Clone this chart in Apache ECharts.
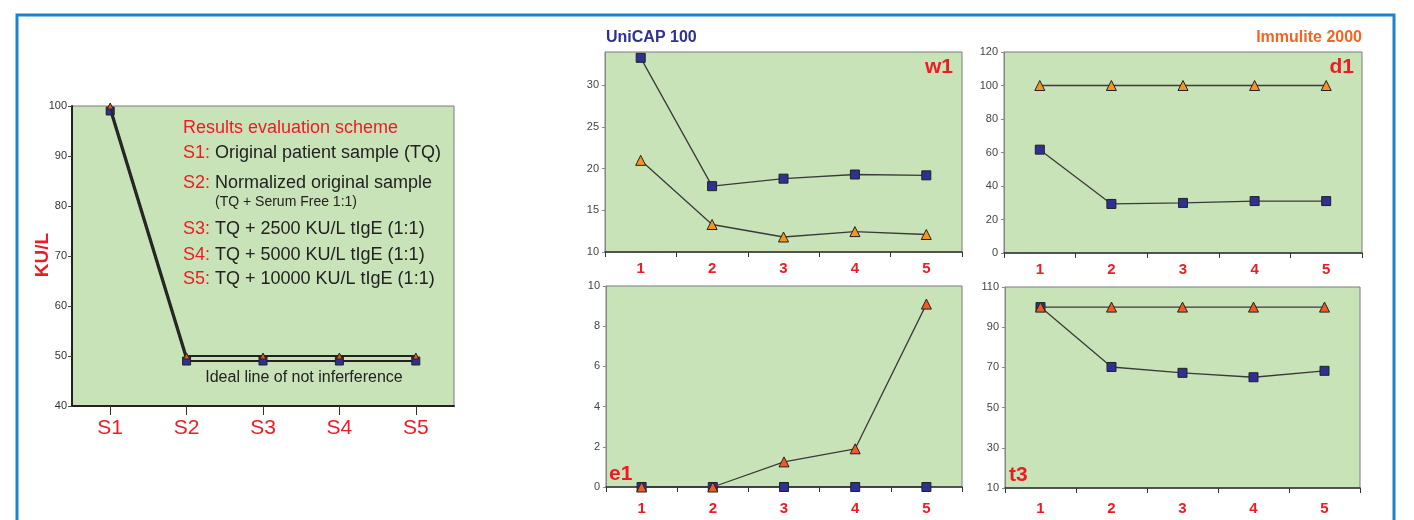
<!DOCTYPE html>
<html><head><meta charset="utf-8">
<script src="https://cdn.jsdelivr.net/npm/echarts@6/dist/echarts.min.js"></script>
<style>html,body{margin:0;padding:0;background:#fff}#c{width:1414px;height:520px}</style>
</head><body><div id="c"></div>
<script>
// ---- data ----
const leftCategories = ['S1','S2','S3','S4','S5'];
const leftTriangle = [100, 50, 50, 50, 50];
const leftSquare = [99, 49, 49, 49, 49];
const leftYTicks = {min: 40, max: 100, interval: 10};

const smallCategories = ['1','2','3','4','5'];
const w1Square = [33.3, 17.9, 18.8, 19.3, 19.2];
const w1Triangle = [21.0, 13.3, 11.8, 12.45, 12.1];
const d1Square = [61.7, 29.3, 29.9, 31.0, 31.0];
const d1Triangle = [100, 100, 100, 100, 100];
const e1Square = [0, 0, 0, 0, 0];
const e1Triangle = [0, 0, 1.25, 1.9, 9.1];
const t3Square = [100, 70.2, 67.3, 65.1, 68.3];
const t3Triangle = [100, 100, 100, 100, 100];

const schemeLines = [
  ['S1:', 'Original patient sample (TQ)'],
  ['S2:', 'Normalized original sample'],
  ['S3:', 'TQ + 2500 KU/L tIgE (1:1)'],
  ['S4:', 'TQ + 5000 KU/L tIgE (1:1)'],
  ['S5:', 'TQ + 10000 KU/L tIgE (1:1)']
];

// ---- style ----
const FONT = '"Liberation Sans", Arial, sans-serif';
const RED = '#ed1c24';
const NAVY = '#2e3192';
const ORANGE = '#f7941d';
const ORANGE_RED = '#f15a24';
const BG = '#c9e3b9';
const LINE = '#3a3a3a';

const chart = echarts.init(document.getElementById('c'));

const grids = [
  {left: 72, top: 106, width: 382, height: 300},
  {left: 605, top: 52, width: 357, height: 200},
  {left: 1004, top: 52, width: 358, height: 201},
  {left: 606, top: 286, width: 356, height: 201},
  {left: 1005, top: 287, width: 355, height: 201}
].map(g => Object.assign({show: true, backgroundColor: BG, borderColor: '#7a7a7a', borderWidth: 1}, g));

function smallX(i, margin) {
  return {
    type: 'category', gridIndex: i, data: smallCategories, boundaryGap: true,
    axisLine: {lineStyle: {color: '#333', width: 1.5}},
    axisTick: {show: true, length: 5, lineStyle: {color: '#333'}},
    axisLabel: {color: RED, fontFamily: FONT, fontWeight: 'bold', fontSize: 15, margin}
  };
}
function smallY(i, min, max, interval) {
  return {
    type: 'value', gridIndex: i, min, max, interval,
    splitLine: {show: false},
    axisLine: {show: true, lineStyle: {color: '#888'}},
    axisTick: {show: true, length: 3, lineStyle: {color: '#888'}},
    axisLabel: {color: '#444', fontFamily: FONT, fontSize: 11, margin: 6, showMaxLabel: ((max - min) % interval === 0)}
  };
}
function sq(i, data, size) {
  return {type: 'line', xAxisIndex: i, yAxisIndex: i, data, symbol: 'rect', symbolSize: size || 9,
    lineStyle: {color: LINE, width: 1.3}, itemStyle: {color: NAVY, borderColor: '#222', borderWidth: 1},
    silent: true, animation: false, z: 3};
}
function tri(i, data, color, size) {
  return {type: 'line', xAxisIndex: i, yAxisIndex: i, data, symbol: 'triangle', symbolSize: size || 10,
    lineStyle: {color: LINE, width: 1.3}, itemStyle: {color, borderColor: '#222', borderWidth: 1},
    silent: true, animation: false, z: 4};
}

const graphics = [
  {type: 'rect', shape: {x: 17, y: 15, width: 1377, height: 530}, style: {fill: 'none', stroke: '#1b84cc', lineWidth: 3}, z: 100},
  {type: 'text', x: 43, y: 255, rotation: Math.PI / 2,
    style: {text: 'KU/L', fill: RED, font: 'bold 19px ' + FONT, align: 'center', verticalAlign: 'middle'}},
  {type: 'text', x: 183, y: 128, style: {text: 'Results evaluation scheme', fill: RED, font: '18px ' + FONT, verticalAlign: 'middle'}, z: 50},
  {type: 'text', x: 215, y: 202, style: {text: '(TQ + Serum Free 1:1)', fill: '#222', font: '14px ' + FONT, verticalAlign: 'middle'}, z: 50},
  {type: 'text', x: 304, y: 378, style: {text: 'Ideal line of not inferference', fill: '#222', font: '16px ' + FONT, align: 'center', verticalAlign: 'middle'}, z: 50},
  {type: 'text', x: 606, y: 38, style: {text: 'UniCAP 100', fill: NAVY, font: 'bold 16px ' + FONT, verticalAlign: 'middle'}},
  {type: 'text', x: 1362, y: 38, style: {text: 'Immulite 2000', fill: '#f26522', font: 'bold 16px ' + FONT, align: 'right', verticalAlign: 'middle'}},
  {type: 'text', x: 953, y: 67, style: {text: 'w1', fill: RED, font: 'bold 21px ' + FONT, align: 'right', verticalAlign: 'middle'}, z: 50},
  {type: 'text', x: 1354, y: 67, style: {text: 'd1', fill: RED, font: 'bold 21px ' + FONT, align: 'right', verticalAlign: 'middle'}, z: 50},
  {type: 'text', x: 609, y: 474, style: {text: 'e1', fill: RED, font: 'bold 21px ' + FONT, verticalAlign: 'middle'}, z: 50},
  {type: 'text', x: 1009, y: 475, style: {text: 't3', fill: RED, font: 'bold 21px ' + FONT, verticalAlign: 'middle'}, z: 50}
];
const schemeY = [153, 183, 229, 255, 279];
schemeLines.forEach((l, k) => {
  graphics.push({type: 'text', x: 183, y: schemeY[k], z: 50,
    style: {text: '{r|' + l[0] + '} {k|' + l[1] + '}', verticalAlign: 'middle', font: '18px ' + FONT,
      rich: {r: {fill: RED, font: '18px ' + FONT}, k: {fill: '#222', font: '18px ' + FONT}}}});
});

const option = {
  animation: false,
  grid: grids,
  xAxis: [
    {type: 'category', gridIndex: 0, data: leftCategories, boundaryGap: true,
      axisLine: {lineStyle: {color: '#222', width: 2}},
      axisTick: {show: true, alignWithLabel: true, length: 9, lineStyle: {color: '#333'}},
      axisLabel: {color: RED, fontFamily: FONT, fontSize: 21, margin: 12}},
    smallX(1, 9), smallX(2, 9), smallX(3, 14), smallX(4, 13)
  ],
  yAxis: [
    {type: 'value', gridIndex: 0, min: leftYTicks.min, max: leftYTicks.max, interval: leftYTicks.interval,
      splitLine: {show: false},
      axisLine: {show: true, lineStyle: {color: '#222', width: 2}},
      axisTick: {show: true, length: 4, lineStyle: {color: '#444'}},
      axisLabel: {color: '#333', fontFamily: FONT, fontSize: 11, margin: 5}},
    smallY(1, 10, 34, 5), smallY(2, 0, 120, 20), smallY(3, 0, 10, 2), smallY(4, 10, 110, 20)
  ],
  series: [
    sq(0, leftSquare, 8), tri(0, leftTriangle, '#e8541d', 6),
    sq(1, w1Square), tri(1, w1Triangle, ORANGE),
    sq(2, d1Square), tri(2, d1Triangle, ORANGE),
    sq(3, e1Square), tri(3, e1Triangle, ORANGE_RED),
    sq(4, t3Square), tri(4, t3Triangle, ORANGE_RED)
  ],
  graphic: graphics
};
option.series[0].lineStyle = {color: '#222', width: 1.8};
option.series[1].lineStyle = {color: '#222', width: 1.8};
chart.setOption(option);
</script>
</body></html>
